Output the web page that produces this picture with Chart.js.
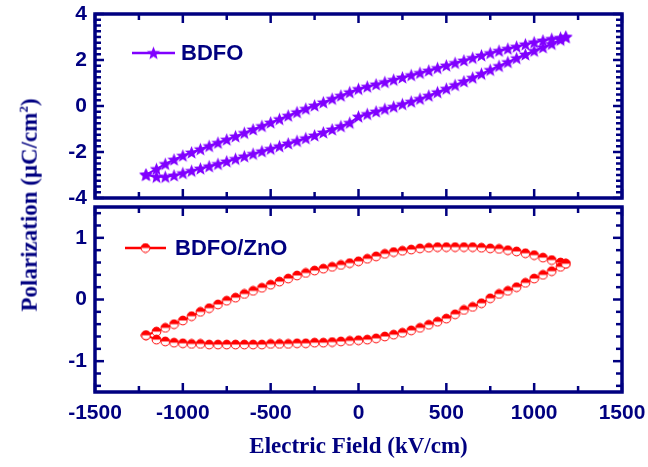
<!DOCTYPE html>
<html>
<head>
<meta charset="utf-8">
<script src="https://cdn.jsdelivr.net/npm/chart.js@4.4.1/dist/chart.umd.min.js"></script>
<style>
  body { margin: 0; background: #fff; }
  #wrap { position: relative; width: 648px; height: 467px; overflow: hidden; background: #fff; }
  canvas { position: absolute; left: 0; }
  #topChart { top: 0; }
  #bottomChart { top: 200px; }
  #yTitle {
    position: absolute; left: 29px; top: 205px;
    transform: translate(-50%, -50%) rotate(-90deg);
    font: bold 23px "Liberation Serif", "Times New Roman", serif;
    color: #000080; white-space: nowrap;
  }
  #yTitle sup { font-size: 13px; }
</style>
</head>
<body>
<div id="wrap">
  <canvas id="topChart" width="648" height="206"></canvas>
  <canvas id="bottomChart" width="648" height="267"></canvas>
  <div id="yTitle">Polarization (μC/cm<sup>2</sup>)</div>
</div>
<script>
// Electric field points (kV/cm), shared by every branch
const field = [-1210, -1150, -1100, -1050, -1000, -950, -900, -850, -800, -750,
  -700, -650, -600, -550, -500, -450, -400, -350, -300, -250,
  -200, -150, -100, -50, 0, 50, 100, 150, 200, 250,
  300, 350, 400, 450, 500, 550, 600, 650, 700, 750,
  800, 850, 900, 950, 1000, 1050, 1100, 1150, 1180];

// BDFO loop (uC/cm2)
const bdfoUpper = [-2.98, -2.74, -2.52, -2.33, -2.16, -2.02, -1.88, -1.74, -1.6, -1.46,
  -1.32, -1.17, -1.02, -0.87, -0.72, -0.57, -0.42, -0.27, -0.12, 0.02,
  0.16, 0.31, 0.45, 0.6, 0.74, 0.84, 0.94, 1.04, 1.14, 1.24,
  1.34, 1.44, 1.54, 1.65, 1.76, 1.87, 1.98, 2.09, 2.2, 2.3,
  2.4, 2.49, 2.58, 2.68, 2.77, 2.85, 2.92, 2.97, 3.0];
const bdfoLower = [-3.0, -3.08, -3.08, -3.02, -2.92, -2.82, -2.72, -2.62, -2.52, -2.41,
  -2.3, -2.19, -2.08, -1.97, -1.86, -1.75, -1.63, -1.52, -1.4, -1.28,
  -1.15, -1.02, -0.88, -0.73, -0.46, -0.35, -0.24, -0.13, -0.03, 0.08,
  0.19, 0.31, 0.45, 0.6, 0.75, 0.91, 1.07, 1.23, 1.4, 1.57,
  1.74, 1.91, 2.08, 2.24, 2.4, 2.55, 2.7, 2.88, 3.0];

// BDFO/ZnO loop (uC/cm2)
const znoUpper = [-0.58, -0.52, -0.46, -0.4, -0.34, -0.27, -0.2, -0.14, -0.08, -0.02,
  0.03, 0.09, 0.14, 0.19, 0.24, 0.29, 0.34, 0.39, 0.43, 0.47,
  0.5, 0.53, 0.56, 0.59, 0.62, 0.66, 0.7, 0.74, 0.77, 0.79,
  0.81, 0.83, 0.84, 0.85, 0.85, 0.85, 0.85, 0.85, 0.84, 0.83,
  0.82, 0.8, 0.78, 0.75, 0.72, 0.68, 0.64, 0.6, 0.58];
const znoLower = [-0.58, -0.65, -0.68, -0.7, -0.71, -0.72, -0.72, -0.73, -0.73, -0.73,
  -0.73, -0.73, -0.73, -0.73, -0.72, -0.72, -0.72, -0.71, -0.71, -0.7,
  -0.7, -0.69, -0.68, -0.67, -0.66, -0.65, -0.63, -0.6, -0.57, -0.54,
  -0.5, -0.46, -0.41, -0.36, -0.31, -0.24, -0.17, -0.12, -0.06, 0.02,
  0.09, 0.14, 0.2, 0.27, 0.34, 0.4, 0.46, 0.53, 0.58];

// tick labels
const fieldTicks = [-1500, -1000, -500, 0, 500, 1000, 1500];
const topTicks = [-4, -2, 0, 2, 4];
const bottomTicks = [-1, 0, 1];

const navy = '#000080';
const violet = '#8000ff';
const red = '#ff0000';

// closed loop: right tip -> upper branch -> left tip -> lower branch
function loop(upper, lower) {
    const up = field.map((x, i) => ({ x: x, y: upper[i] })).reverse();
    const down = field.map((x, i) => ({ x: x, y: lower[i] }));
    return up.concat(down);
}

function starMarker(color) {
    const c = document.createElement('canvas');
    c.width = c.height = 15;
    const g = c.getContext('2d');
    g.fillStyle = color;
    g.beginPath();
    for (let i = 0; i < 10; i++) {
        const r = i % 2 ? 3 : 7;
        const a = -Math.PI / 2 + i * Math.PI / 5;
        g.lineTo(7.5 + r * Math.cos(a), 8 + r * Math.sin(a));
    }
    g.closePath();
    g.fill();
    return c;
}

function halfCircleMarker(color) {
    const c = document.createElement('canvas');
    c.width = c.height = 11;
    const g = c.getContext('2d');
    g.fillStyle = '#fff';
    g.beginPath(); g.arc(5.5, 5.5, 4.4, 0, Math.PI * 2); g.fill();
    g.fillStyle = color;
    g.beginPath(); g.arc(5.5, 5.5, 4.4, Math.PI, 0); g.fill();
    g.strokeStyle = color;
    g.lineWidth = 1;
    g.beginPath(); g.arc(5.5, 5.5, 4.4, 0, Math.PI * 2); g.stroke();
    return c;
}

const star = starMarker(violet);
const halfDot = halfCircleMarker(red);

// frame, inward ticks on all four sides, inset legend
function framePlugin(cfg) {
    return {
        id: 'frame',
        afterDatasetsDraw(chart) {
            const ctx = chart.ctx;
            const a = chart.chartArea;
            const sx = chart.scales.x;
            const sy = chart.scales.y;
            const seg = (x1, y1, x2, y2) => { ctx.beginPath(); ctx.moveTo(x1, y1); ctx.lineTo(x2, y2); ctx.stroke(); };
            ctx.save();
            ctx.strokeStyle = navy;
            ctx.lineWidth = 2.5;
            for (let v = -1500; v <= 1500; v += 250) {
                const px = sx.getPixelForValue(v);
                const len = v % 500 === 0 ? 9 : 6;
                seg(px, a.top, px, a.top + len);
                seg(px, a.bottom, px, a.bottom - len);
            }
            const kMin = Math.ceil(sy.min / cfg.minor - 1e-6);
            const kMax = Math.floor(sy.max / cfg.minor + 1e-6);
            for (let k = kMin; k <= kMax; k++) {
                const v = k * cfg.minor;
                const r = v / cfg.major;
                const len = Math.abs(r - Math.round(r)) < 1e-6 ? 9 : 6;
                const py = sy.getPixelForValue(v);
                seg(a.left, py, a.left + len, py);
                seg(a.right, py, a.right - len, py);
            }
            ctx.lineWidth = 3.5;
            ctx.strokeRect(a.left, a.top, a.right - a.left, a.bottom - a.top);

            const lg = cfg.legend;
            ctx.strokeStyle = lg.color;
            ctx.lineWidth = 2.5;
            seg(lg.x0, lg.y, lg.x1, lg.y);
            const mx = (lg.x0 + lg.x1) / 2;
            ctx.drawImage(lg.marker, mx - lg.marker.width / 2, lg.y - lg.marker.height / 2);
            ctx.fillStyle = navy;
            ctx.font = 'bold 22px "Liberation Sans", Arial, sans-serif';
            ctx.textBaseline = 'middle';
            ctx.textAlign = 'left';
            ctx.fillText(lg.label, lg.textX, lg.y + 1);
            ctx.restore();
        }
    };
}

const tickFont = { family: '"Liberation Sans", Arial, sans-serif', size: 21, weight: 'bold' };

// keep Chart.js from shrinking the plot area for overhanging edge labels
function noEdgePadding(s) {
    s.paddingTop = 0;
    s.paddingBottom = 0;
    s.paddingLeft = 0;
    s.paddingRight = 0;
}

function panel(canvasId, label, data, color, marker, yMin, yMax, yTicks, padTop, padBottom, showX, cfg) {
    return new Chart(document.getElementById(canvasId), {
        type: 'scatter',
        data: {
            datasets: [{
                label: label,
                data: data,
                showLine: true,
                borderColor: color,
                borderWidth: 2,
                pointStyle: marker,
                pointRadius: 5,
                pointHoverRadius: 5
            }]
        },
        options: {
            responsive: false,
            animation: false,
            devicePixelRatio: 1,
            layout: { padding: { left: 0, right: 26, top: padTop, bottom: padBottom } },
            plugins: {
                legend: { display: false },
                tooltip: { enabled: false }
            },
            scales: {
                x: {
                    type: 'linear',
                    min: -1500,
                    max: 1500,
                    display: showX,
                    afterBuildTicks: s => { s.ticks = fieldTicks.map(v => ({ value: v })); },
                    afterFit: s => { noEdgePadding(s); if (showX) s.height = 75; },
                    grid: { display: false, drawTicks: false },
                    border: { display: false },
                    ticks: { color: navy, font: tickFont, padding: 9, maxRotation: 0, autoSkip: false, callback: v => String(v) },
                    title: {
                        display: true,
                        text: 'Electric Field (kV/cm)',
                        color: navy,
                        font: { family: '"Liberation Serif", "Times New Roman", serif', size: 23, weight: 'bold' },
                        padding: { top: 0, bottom: 6 }
                    }
                },
                y: {
                    type: 'linear',
                    min: yMin,
                    max: yMax,
                    afterBuildTicks: s => { s.ticks = yTicks.map(v => ({ value: v })); },
                    afterFit: s => { noEdgePadding(s); s.width = 95; },
                    grid: { display: false, drawTicks: false },
                    border: { display: false },
                    ticks: { color: navy, font: tickFont, padding: 8, callback: v => String(v) }
                }
            }
        },
        plugins: [framePlugin(cfg)]
    });
}

panel('topChart', 'BDFO', loop(bdfoUpper, bdfoLower), violet, star,
    -4, 4, topTicks, 14, 8, false,
    { minor: 0.25, major: 2, legend: { x0: 132, x1: 175, y: 53, marker: star, color: violet, label: 'BDFO', textX: 181 } });

panel('bottomChart', 'BDFO/ZnO', loop(znoUpper, znoLower), red, halfDot,
    -1.5, 1.5, bottomTicks, 6, 0, true,
    { minor: 0.2, major: 1, legend: { x0: 125, x1: 166, y: 48, marker: halfDot, color: red, label: 'BDFO/ZnO', textX: 175 } });
</script>
</body>
</html>
